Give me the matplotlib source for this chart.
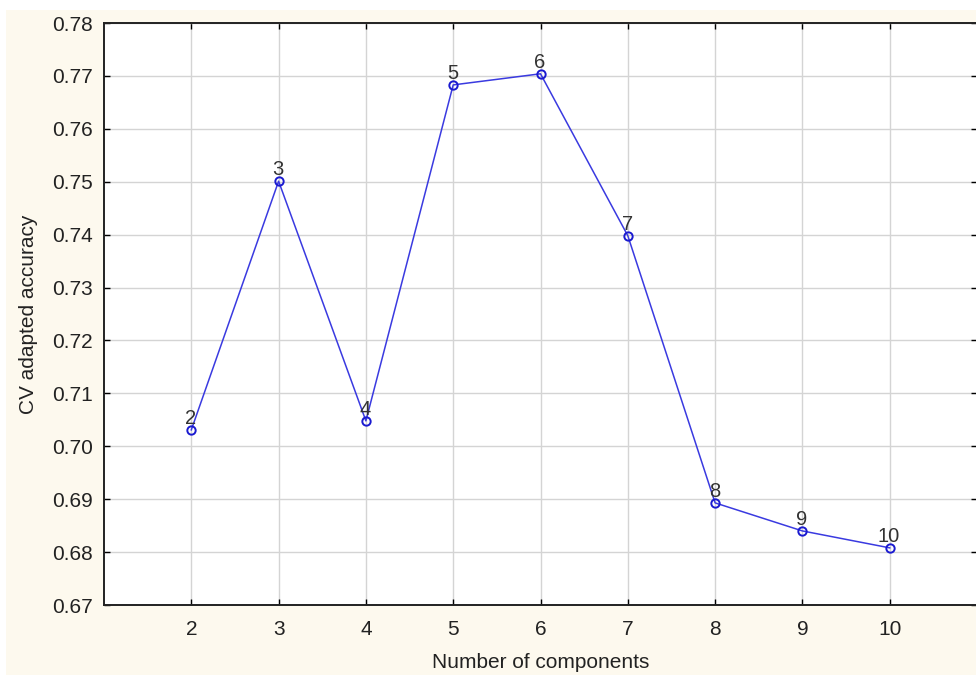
import numpy as np
import matplotlib
matplotlib.use("Agg")
import matplotlib.pyplot as plt
from matplotlib.patches import Rectangle

components = [2, 3, 4, 5, 6, 7, 8, 9, 10]
accuracy = [0.7031, 0.7501, 0.7048, 0.7683, 0.7704, 0.7398, 0.6893, 0.6840, 0.6808]
yticks = [0.67, 0.68, 0.69, 0.70, 0.71, 0.72, 0.73, 0.74, 0.75, 0.76, 0.77, 0.78]

plt.rcParams["font.family"] = ["Liberation Sans", "DejaVu Sans"]

fig = plt.figure(figsize=(9.76, 6.77), dpi=100, facecolor="white")
# cream panel behind the plot
fig.patches.append(Rectangle((6 / 976, 2 / 677), 1.0, (677 - 12) / 677,
                             transform=fig.transFigure, facecolor="#fdf9ee",
                             edgecolor="none", zorder=-10))

ax = fig.add_axes([104 / 976, 1 - 605 / 677, (977 - 104) / 976, (605 - 23) / 677])
ax.set_facecolor("white")
ax.set_zorder(1)

ax.plot(components, accuracy, color="#3a3ae0", lw=1.1, marker="o", ms=6,
        mfc="none", mec="#1a1ad0", mew=1.4, zorder=3)
for x, y in zip(components, accuracy):
    ax.annotate(str(x), (x, y), xytext=(-0.5, 1.5), textcoords="offset points",
                ha="center", va="bottom", fontsize=14.5, color="#333333")

ax.set_xlim(1, 11)
ax.set_ylim(0.67, 0.78)
ax.set_xticks(components)
ax.set_yticks(yticks)
ax.set_yticklabels([f"{v:.2f}" for v in yticks])
ax.grid(True, color="#d4d4d4", lw=1)
ax.set_axisbelow(True)
ax.tick_params(direction="in", length=4, width=1, labelsize=15,
               top=True, right=True, colors="black", labelcolor="#222222")
ax.tick_params(axis="x", pad=11)
ax.tick_params(axis="y", pad=8)
for s in ax.spines.values():
    s.set_linewidth(1.4)
    s.set_color("#222222")

ax.set_xlabel("Number of components", fontsize=15, color="#222222", labelpad=10)
ax.set_ylabel("CV adapted accuracy", fontsize=15, color="#222222", labelpad=10)

fig.savefig("out.png", dpi=100, facecolor=fig.get_facecolor())
